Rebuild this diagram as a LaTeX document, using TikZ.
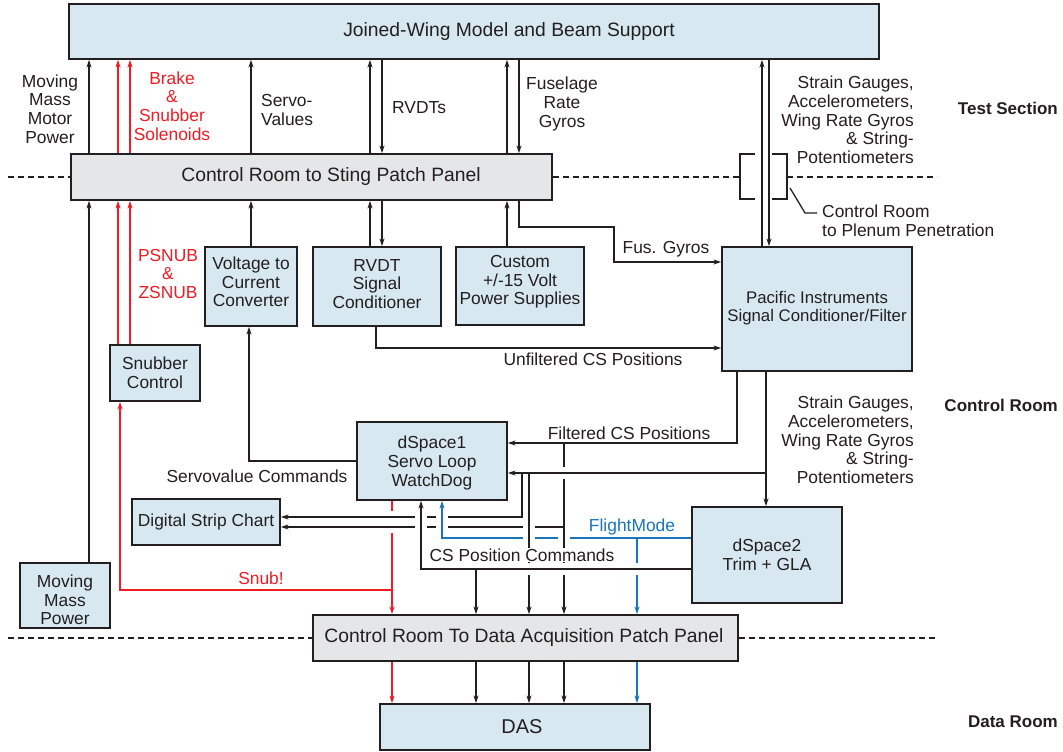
\documentclass[tikz,border=0pt]{standalone}
\usepackage{fontspec}
\setmainfont{Liberation Sans}
\usetikzlibrary{arrows.meta}
\definecolor{boxblue}{HTML}{D8E8F1}
\definecolor{panelgray}{HTML}{E5E6E7}
\definecolor{ink}{HTML}{231F20}
\definecolor{sred}{HTML}{EE1C25}
\definecolor{sblue}{HTML}{1B75BB}
\tikzset{
 bx/.style={draw=ink, line width=1.8pt, fill=boxblue, inner sep=0pt},
 pnl/.style={bx, fill=panelgray},
 lbl/.style={text=ink, font=\fontsize{17.4}{18.7}\selectfont, inner sep=0pt, align=center},
 big/.style={lbl, font=\fontsize{19.3}{21}\selectfont},
 sect/.style={lbl, font=\fontsize{17}{18.6}\selectfont\bfseries, anchor=east},
 ln/.style={draw=ink, line width=1.3pt},
 conn/.style={ln, -{Stealth[length=7.5pt,width=5pt,inset=2pt]}},
 rconn/.style={conn, draw=sred},
 bconn/.style={conn, draw=sblue},
 rln/.style={ln, draw=sred},
 bln/.style={ln, draw=sblue},
 dashln/.style={ln, dash pattern=on 6pt off 4pt},
}
\newcommand\hopH[3]{\fill[white] ({#1-2},{#2-6}) rectangle ({#1+2},{#2+6}); \draw[ln,draw=#3] ({#1-3},#2) -- ({#1+3},#2);}
\newcommand\hopV[3]{\fill[white] ({#1-6},{#2-2}) rectangle ({#1+6},{#2+2}); \draw[ln,draw=#3] (#1,{#2-3}) -- (#1,{#2+3});}
\begin{document}
\begin{tikzpicture}[x=1pt,y=-1pt]
\useasboundingbox (0,0) rectangle (1063,752);
\fill[white] (0,0) rectangle (1063,752);

% boxes
\node[bx, minimum width=810pt, minimum height=55pt] (top) at (474,31.5) {};
\node[pnl, minimum width=481pt, minimum height=46pt] (sting) at (311.5,177) {};
\node[bx, minimum width=92pt, minimum height=79pt] (volt) at (251,286.5) {};
\node[bx, minimum width=128pt, minimum height=79pt] (rvdt) at (377,286.5) {};
\node[bx, minimum width=128pt, minimum height=78pt] (cust) at (520,286) {};
\node[bx, minimum width=190pt, minimum height=124pt] (pac) at (817,309) {};
\node[bx, minimum width=90pt, minimum height=56pt] (snub) at (155,373) {};
\node[bx, minimum width=90pt, minimum height=65pt] (mmp) at (65,595.5) {};
\node[bx, minimum width=148pt, minimum height=46pt] (dsc) at (206,522) {};
\node[bx, minimum width=150pt, minimum height=78pt] (ds1) at (432,461) {};
\node[bx, minimum width=150pt, minimum height=96pt] (ds2) at (767,555) {};
\node[pnl, minimum width=425pt, minimum height=46pt] (daq) at (525.5,638) {};
\node[bx, minimum width=270pt, minimum height=46pt] (das) at (515,727) {};

% x positions
\coordinate (xmm) at (89,0);
\coordinate (xr1) at (118,0);
\coordinate (xr2) at (130,0);
\coordinate (xsv) at (251,0);
\coordinate (xrv1) at (370,0);
\coordinate (xrv2) at (382,0);
\coordinate (xfg1) at (507,0);
\coordinate (xpl1) at (762,0);
\coordinate (xpl2) at (769,0);
% junction points
\coordinate (fgA) at (519,227);
\coordinate (fgB) at (614,227);
\coordinate (fgC) at (614,262);
\coordinate (unfA) at (376,348);
\coordinate (vcA) at (249,461);
\coordinate (filA) at (737,443);
\coordinate (fcA) at (564,443);
\coordinate (fcB) at (564,527);
\coordinate (strA) at (766,473);
\coordinate (s1A) at (522,473);
\coordinate (s1B) at (522,517);
\coordinate (s2A) at (529,473);
\coordinate (fmA) at (692,538);
\coordinate (fmB) at (442,538);
\coordinate (fmC) at (637,538);
\coordinate (csA) at (692,569);
\coordinate (csB) at (421,569);
\coordinate (csC) at (476,569);
\coordinate (snA) at (392,590);
\coordinate (snB) at (120,590);

% dashed room boundaries
\draw[dashln] (8,177) -- (sting.west);
\draw[dashln] (sting.east) -- (740,177);
\draw[dashln] (787,177) -- (937,177);
\draw[dashln] (8,638) -- (daq.west);
\draw[dashln] (daq.east) -- (937,638);

% plenum penetration bracket
\draw[ln] (755,154) -- (740,154) -- (740,199) -- (755,199);
\draw[ln] (772,154) -- (787,154) -- (787,199) -- (772,199);
\draw[ln] (790,188) -- (805,213) -- (817,213);

% test section connections
\draw[conn] (sting.north -| xmm) -- (top.south -| xmm);
\draw[rconn] (sting.north -| xr1) -- (top.south -| xr1);
\draw[rconn] (sting.north -| xr2) -- (top.south -| xr2);
\draw[conn] (sting.north -| xsv) -- (top.south -| xsv);
\draw[conn] (sting.north -| xrv1) -- (top.south -| xrv1);
\draw[conn] (top.south -| xrv2) -- (sting.north -| xrv2);
\draw[conn] (sting.north -| xfg1) -- (top.south -| xfg1);
\draw[conn] (top.south -| fgA) -- (sting.north -| fgA);
\draw[conn] (pac.north -| xpl1) -- (top.south -| xpl1);
\draw[conn] (top.south -| xpl2) -- (pac.north -| xpl2);

% control room to sting panel
\draw[conn] (mmp.north -| xmm) -- (sting.south -| xmm);
\draw[rconn] (snub.north -| xr1) -- (sting.south -| xr1);
\draw[rconn] (snub.north -| xr2) -- (sting.south -| xr2);
\draw[conn] (volt.north -| xsv) -- (sting.south -| xsv);
\draw[conn] (rvdt.north -| xrv1) -- (sting.south -| xrv1);
\draw[conn] (sting.south -| xrv2) -- (rvdt.north -| xrv2);
\draw[conn] (cust.north -| xfg1) -- (sting.south -| xfg1);
\draw[conn] (sting.south -| fgA) -- (fgA) -- (fgB) -- (fgC) -- (pac.west |- fgC);
\draw[conn] (rvdt.south -| unfA) -- (unfA) -- (pac.west |- unfA);

% control room
\draw[conn] (ds1.west |- vcA) -- (vcA) -- (volt.south -| vcA);
\draw[conn] (pac.south -| filA) -- (filA) -- (ds1.east |- filA);
\draw[conn] (fcA) -- (daq.north -| fcA);
\draw[conn] (pac.south -| strA) -- (ds2.north -| strA);
\draw[conn] (strA) -- (ds1.east |- strA);
\draw[conn] (s1A) -- (s1B) -- (dsc.east |- s1B);
\draw[conn] (s2A) -- (daq.north -| s2A);
\draw[conn] (fcB) -- (dsc.east |- fcB);
\draw[bconn] (ds2.west |- fmA) -- (fmB) -- (ds1.south -| fmB);
\draw[bconn] (fmC) -- (daq.north -| fmC);
\draw[conn] (ds2.west |- csA) -- (csB) -- (ds1.south -| csB);
\draw[conn] (csC) -- (daq.north -| csC);
\draw[rconn] (ds1.south -| snA) -- (daq.north -| snA);
\draw[rconn] (snA) -- (snB) -- (snub.south -| snB);

% data room
\draw[rconn] (daq.south -| snA) -- (das.north -| snA);
\draw[conn] (daq.south -| csC) -- (das.north -| csC);
\draw[conn] (daq.south -| s2A) -- (das.north -| s2A);
\draw[conn] (daq.south -| fcA) -- (das.north -| fcA);
\draw[bconn] (daq.south -| fmC) -- (das.north -| fmC);

% line hops
\hopH{392}{517}{ink}
\hopH{392}{527}{ink}
\hopV{421}{517}{ink}
\hopV{421}{527}{ink}
\hopV{442}{517}{sblue}
\hopV{442}{527}{sblue}
\hopV{529}{527}{ink}
\hopV{529}{538}{ink}
\hopV{564}{538}{ink}
\hopH{529}{569}{ink}
\hopH{564}{569}{ink}
\hopH{637}{569}{ink}
\hopH{564}{473}{ink}

% box texts
\node[big] at (509,32) {Joined-Wing Model and Beam Support};
\node[big] at (331,177) {Control Room to Sting Patch Panel};
\node[lbl] at (251,282) {Voltage to\\Current\\Converter};
\node[lbl] at (377,284) {RVDT\\Signal\\Conditioner};
\node[lbl] at (520,282) {Custom\\+/-15 Volt\\Power Supplies};
\node[lbl, font=\fontsize{16.8}{18.6}\selectfont] at (817,308) {Pacific Instruments\\Signal Conditioner/Filter};
\node[lbl] at (155,373) {Snubber\\Control};
\node[lbl] at (65,600) {Moving\\Mass\\Power};
\node[lbl] at (206,522) {Digital Strip Chart};
\node[lbl] at (432,463) {dSpace1\\Servo Loop\\WatchDog};
\node[lbl] at (767,555) {dSpace2\\Trim + GLA};
\node[big] at (524,638) {Control Room To Data Acquisition Patch Panel};
\node[lbl, font=\fontsize{20}{22}\selectfont] at (522,727) {DAS};

% connector labels
\node[lbl] at (50,109) {Moving\\Mass\\Motor\\Power};
\node[lbl, text=sred] at (172,106) {Brake\\\&\\Snubber\\Solenoids};
\node[lbl, anchor=west, align=left] at (261,110) {Servo-\\Values};
\node[lbl, anchor=west] at (392,108) {RVDTs};
\node[lbl] at (562,104) {Fuselage\\Rate\\Gyros};
\node[lbl, anchor=east, align=right] at (914,120) {Strain Gauges,\\Accelerometers,\\Wing Rate Gyros\\\& String-\\Potentiometers};
\node[lbl, anchor=west, align=left] at (822,221) {Control Room\\to Plenum Penetration};
\node[lbl, text=sred] at (168,274) {PSNUB\\\&\\ZSNUB};
\node[lbl] at (666,249) {Fus. Gyros};
\node[lbl] at (593,359) {Unfiltered CS Positions};
\node[lbl, anchor=east, align=right] at (914,440) {Strain Gauges,\\Accelerometers,\\Wing Rate Gyros\\\& String-\\Potentiometers};
\node[lbl] at (629,433) {Filtered CS Positions};
\node[lbl] at (257,476) {Servovalue Commands};
\node[lbl, text=sblue] at (632,527) {FlightMode};
\node[lbl, fill=white, inner ysep=1pt] at (522,555) {CS Position Commands};
\node[lbl, text=sred] at (261,578) {Snub!};

% room labels
\node[sect] at (1058,108) {Test Section};
\node[sect] at (1058,405) {Control Room};
\node[sect] at (1058,722) {Data Room};
\end{tikzpicture}
\end{document}
